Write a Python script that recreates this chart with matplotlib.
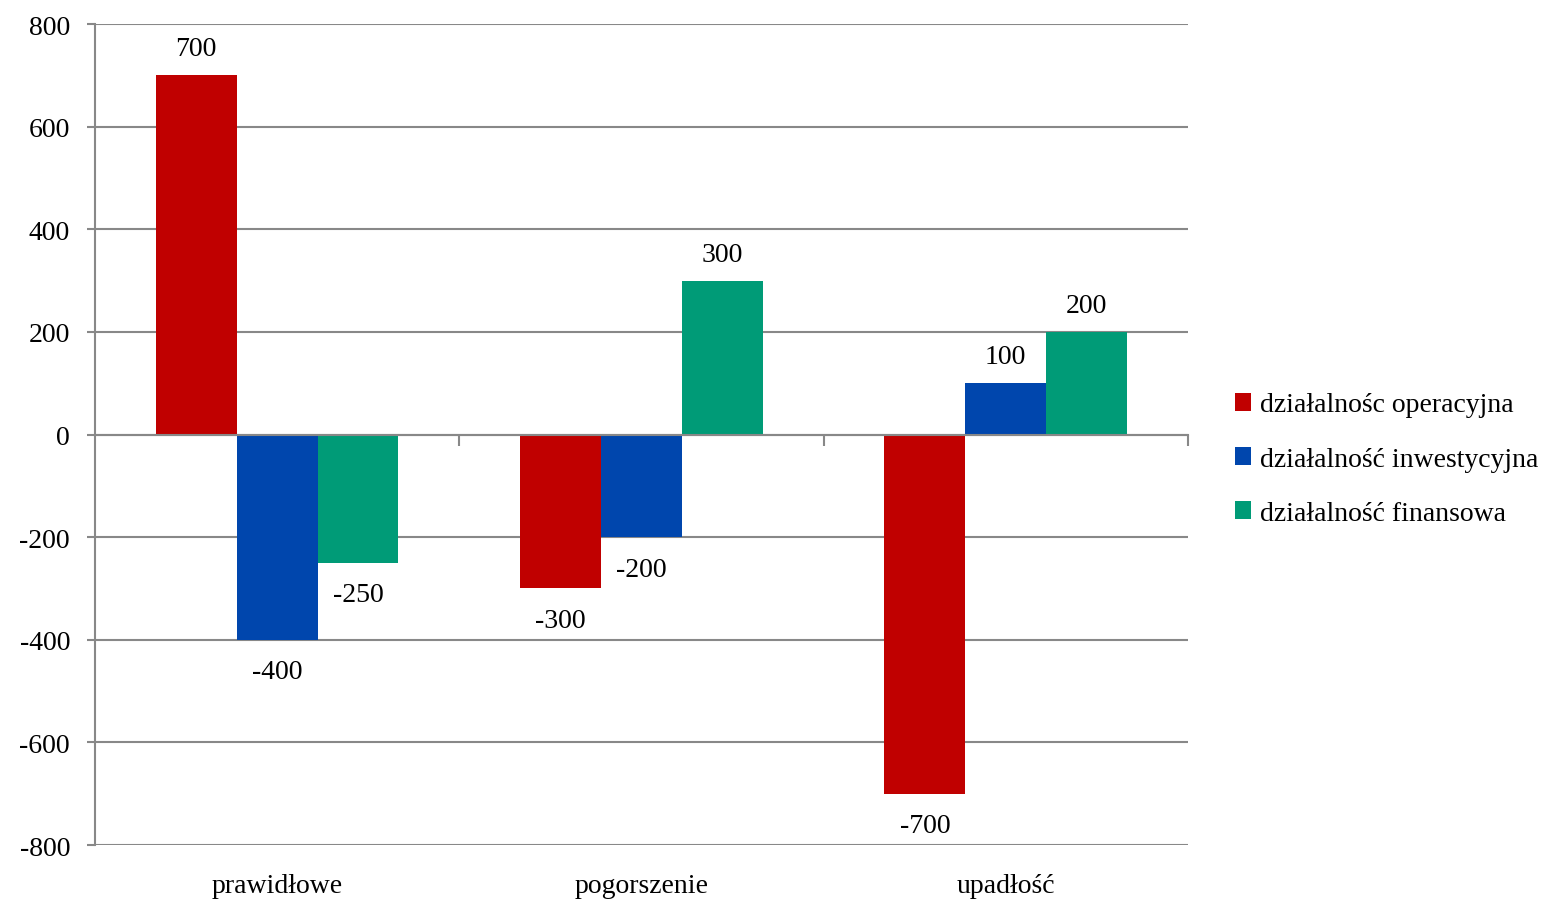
import matplotlib
matplotlib.use("Agg")
import matplotlib.pyplot as plt
import numpy as np

plt.rcParams['font.family'] = ['Liberation Serif', 'DejaVu Serif']
plt.rcParams['axes.unicode_minus'] = False

categories = ["prawidłowe", "pogorszenie", "upadłość"]
series_names = ["działalnośc operacyjna", "działalność inwestycyjna", "działalność finansowa"]
operacyjna = [700, -300, -700]
inwestycyjna = [-400, -200, 100]
finansowa = [-250, 300, 200]
colors = ["#C00000", "#0046AD", "#009B77"]

fs = 20
fig = plt.figure(figsize=(15.63, 9.03), dpi=100)
ax = fig.add_axes([0.0608, 0.0631, 0.6992, 0.9092])

grid_col = "#888888"
x = np.arange(len(categories))
w = 0.222
for i, (vals, name, c) in enumerate(zip([operacyjna, inwestycyjna, finansowa], series_names, colors)):
    pos = x + (i - 1) * w
    ax.bar(pos, vals, w, color=c, label=name, zorder=3)
    for p, v in zip(pos, vals):
        if v >= 0:
            ax.annotate(str(v), (p, v), xytext=(0, 10), textcoords="offset points",
                        ha="center", va="bottom", fontsize=fs)
        else:
            ax.annotate(str(v), (p, v), xytext=(0, -14), textcoords="offset points",
                        ha="center", va="top", fontsize=fs)

ax.set_xlim(-0.5, 2.5)
ax.set_ylim(-800, 800)
ax.set_yticks(range(-800, 801, 200))
ax.tick_params(axis="y", labelsize=fs, length=6, color=grid_col, width=1.5, pad=12)
ax.yaxis.grid(True, color=grid_col, linewidth=1.5, zorder=0)

# x axis at zero with boundary ticks
ax.spines["bottom"].set_position(("data", 0))
ax.spines["bottom"].set_color(grid_col)
ax.spines["bottom"].set_linewidth(1.5)
ax.spines["bottom"].set_zorder(4)
ax.set_xticks([0.5, 1.5, 2.5])
ax.tick_params(axis="x", length=8, color=grid_col, width=1.5, labelbottom=False)
for s in ["top", "right"]:
    ax.spines[s].set_visible(False)
ax.spines["left"].set_color(grid_col)
ax.spines["left"].set_linewidth(1.5)

for xi, cat in zip(x, categories):
    ax.text(xi, -855, cat, ha="center", va="top", fontsize=fs)

ax.legend(loc="center left", bbox_to_anchor=(1.02, 0.47), frameon=False, fontsize=fs,
          handlelength=0.6, handleheight=0.6, handletextpad=0.3, labelspacing=1.05)

fig.savefig("out.png", dpi=100)
